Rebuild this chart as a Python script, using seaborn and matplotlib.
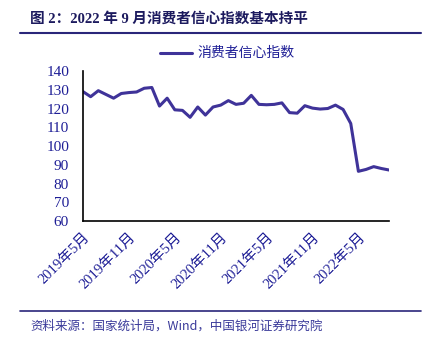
import matplotlib
matplotlib.use("Agg")
import matplotlib.pyplot as plt
import seaborn as sns
import pandas as pd

# ---- data ----
month_index = list(range(41))  # 2019-05 ... 2022-09
confidence = [129.0, 126.3, 129.5, 127.5, 125.5, 128.0, 128.5, 128.8, 130.8, 131.2,
              121.3, 125.5, 119.3, 119.0, 115.3, 120.8, 116.5, 120.8, 121.8, 124.2,
              122.2, 122.8, 127.0, 122.2, 122.0, 122.2, 123.0, 117.8, 117.5, 121.5,
              120.2, 119.7, 120.0, 121.8, 119.5, 112.0, 86.5, 87.5, 89.0, 88.0,
              87.2]
tick_positions = [0, 6, 12, 18, 24, 30, 36]
tick_labels = ["2019年5月", "2019年11月", "2020年5月", "2020年11月",
               "2021年5月", "2021年11月", "2022年5月"]
y_ticks = [60, 70, 80, 90, 100, 110, 120, 130, 140]
series_name = "消费者信心指数"
title = "图 2：2022 年 9 月消费者信心指数基本持平"
source = "资料来源：国家统计局，Wind，中国银河证券研究院"

df = pd.DataFrame({"month": month_index, "value": confidence, "series": series_name})

sns.set_style("white")
plt.rcParams['font.family'] = ['Liberation Serif', 'Noto Sans CJK SC', 'DejaVu Sans']

W, H = 431, 342
fig = plt.figure(figsize=(W / 100, H / 100), dpi=100)
ax = fig.add_axes([83 / W, 1 - 221 / H, (389 - 83) / W, (221 - 71) / H])

line_color = "#3F3399"
text_blue = "#1E1E96"
navy = "#2A267A"

sns.lineplot(data=df, x="month", y="value", hue="series", palette=[line_color],
             linewidth=2.2, ax=ax, legend=False)

ax.set_xlim(0, 40)
ax.set_ylim(60, 140)
ax.set_yticks(y_ticks)
ax.set_yticklabels([str(v) for v in y_ticks], fontsize=11, color=text_blue,
                   family=['Liberation Serif'])
ax.set_xticks(tick_positions)
ax.set_xticklabels(tick_labels, rotation=45, ha="right", rotation_mode="anchor",
                   fontsize=10.5, color=text_blue,
                   family=['Liberation Serif', 'Noto Sans CJK SC'])
ax.tick_params(axis="both", direction="in", length=4, width=1, color="black")
ax.tick_params(axis="y", pad=10)
ax.tick_params(axis="x", pad=7)
ax.set_xlabel("")
ax.set_ylabel("")
for s in ["top", "right"]:
    ax.spines[s].set_visible(False)
for s in ["left", "bottom"]:
    ax.spines[s].set_color("black")
    ax.spines[s].set_linewidth(1.2)
ax.grid(False)

# legend (manual, top center)
fig.add_artist(plt.Line2D([160 / W, 192 / W], [1 - 53 / H, 1 - 53 / H],
                          color=line_color, linewidth=2.2))
fig.text(197 / W, 1 - 53 / H, series_name, fontsize=10, color=text_blue,
         va="center", ha="left", family=['Noto Sans CJK SC'])

# title and rules
fig.text(30 / W, 1 - 19 / H, title, fontsize=10.5, fontweight="bold", color="#1C1A5E",
         va="center", ha="left", family=['Liberation Serif', 'Noto Sans CJK SC'])
fig.add_artist(plt.Line2D([20 / W, 421 / W], [1 - 33 / H, 1 - 33 / H],
                          color=navy, linewidth=1.5))
fig.add_artist(plt.Line2D([20 / W, 421 / W], [1 - 311 / H, 1 - 311 / H],
                          color=navy, linewidth=1.2))
fig.text(30 / W, 1 - 326 / H, source, fontsize=9, color="#3A3A9A", style="italic",
         va="center", ha="left", family=['Noto Sans CJK SC', 'DejaVu Sans'])

fig.savefig("out.png", dpi=100)
